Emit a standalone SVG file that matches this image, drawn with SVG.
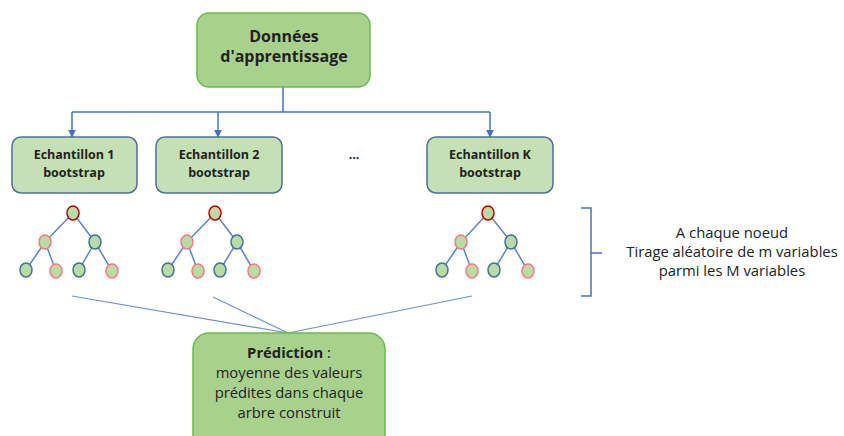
<svg xmlns="http://www.w3.org/2000/svg" width="844" height="436" viewBox="0 0 844 436">
  <defs>
    <marker id="arrow" viewBox="0 0 10 10" refX="9" refY="5" markerWidth="8" markerHeight="8" markerUnits="userSpaceOnUse" orient="auto">
      <path d="M0,0 L10,5 L0,10 z" fill="#4472c4"/>
    </marker>
    <style>
      .main { fill: #a9d18e; stroke: #6cbb4c; stroke-width: 1.5; }
      .sample { fill: #c5e0b4; stroke: #4f6f99; stroke-width: 1.5; }
      .link { fill: none; stroke: #4472c4; stroke-width: 1.5; }
      .thin { fill: none; stroke: #6f8fd0; stroke-width: 1.2; }
      .edge { stroke: #5b84cc; stroke-width: 1.5; }
      .nd { fill: #b9dba6; stroke-width: 1.5; }
      .root { stroke: #c00000; }
      .red { stroke: #f47a7d; }
      .blue { stroke: #41719c; }
      text { font-family: "Open Sans", "Liberation Sans", sans-serif; fill: #222; text-anchor: middle; }
      .title { font-size: 16px; font-weight: bold; }
      .lbl { font-size: 12.5px; font-weight: bold; }
      .body { font-size: 14.8px; }
      .note { font-size: 14.8px; }
    </style>
  </defs>

  <!-- flow connectors -->
  <g id="connectors">
    <path class="link" d="M283,87 V112"/>
    <path class="link" d="M72,112 H490"/>
    <path class="link" d="M72,112 V137" marker-end="url(#arrow)"/>
    <path class="link" d="M218,112 V137" marker-end="url(#arrow)"/>
    <path class="link" d="M490,112 V137" marker-end="url(#arrow)"/>
    <path class="thin" d="M72,296 L288,333"/>
    <path class="thin" d="M213,297 L288,333"/>
    <path class="thin" d="M472,296 L288,333"/>
    <!-- bracket -->
    <path class="link" d="M581,208 H591 V296 H581 M591,253 H602"/>
  </g>

  <g id="donnees">
    <rect class="main" x="197" y="13" width="173" height="74" rx="12"/>
    <text class="title" x="284" y="42">Données</text>
    <text class="title" x="284" y="62">d'apprentissage</text>
  </g>

  <g id="echantillon1">
    <rect class="sample" x="12" y="137" width="125" height="56" rx="9"/>
    <text class="lbl" x="74" y="159">Echantillon 1</text>
    <text class="lbl" x="74" y="177">bootstrap</text>
  </g>

  <g id="echantillon2">
    <rect class="sample" x="156" y="137" width="126" height="56" rx="9"/>
    <text class="lbl" x="219" y="159">Echantillon 2</text>
    <text class="lbl" x="219" y="177">bootstrap</text>
  </g>

  <g id="ellipsis">
    <text class="lbl" x="354" y="159">...</text>
  </g>

  <g id="echantillonK">
    <rect class="sample" x="427" y="137" width="126" height="56" rx="9"/>
    <text class="lbl" x="490" y="159">Echantillon K</text>
    <text class="lbl" x="490" y="177">bootstrap</text>
  </g>

  <!-- decision trees -->
  <g id="tree1">
    <path class="edge" d="M73,213 L45,242 M73,213 L95,242 M45,242 L26,270 M45,242 L56,271 M95,242 L79,270 M95,242 L112,271"/>
    <ellipse class="nd root" cx="73" cy="213" rx="6" ry="7"/>
    <ellipse class="nd red" cx="45" cy="242" rx="6" ry="7"/>
    <ellipse class="nd blue" cx="95" cy="242" rx="6" ry="7"/>
    <ellipse class="nd blue" cx="26" cy="270" rx="6" ry="7"/>
    <ellipse class="nd red" cx="56" cy="271" rx="6" ry="7"/>
    <ellipse class="nd blue" cx="79" cy="270" rx="6" ry="7"/>
    <ellipse class="nd red" cx="112" cy="271" rx="6" ry="7"/>
  </g>

  <g id="tree2">
    <path class="edge" d="M215,213 L187,242 M215,213 L237,242 M187,242 L168,270 M187,242 L198,271 M237,242 L220,270 M237,242 L254,271"/>
    <ellipse class="nd root" cx="215" cy="213" rx="6" ry="7"/>
    <ellipse class="nd red" cx="187" cy="242" rx="6" ry="7"/>
    <ellipse class="nd blue" cx="237" cy="242" rx="6" ry="7"/>
    <ellipse class="nd blue" cx="168" cy="270" rx="6" ry="7"/>
    <ellipse class="nd red" cx="198" cy="271" rx="6" ry="7"/>
    <ellipse class="nd blue" cx="220" cy="270" rx="6" ry="7"/>
    <ellipse class="nd red" cx="254" cy="271" rx="6" ry="7"/>
  </g>

  <g id="treeK">
    <path class="edge" d="M488,213 L461,242 M488,213 L511,242 M461,242 L442,270 M461,242 L472,271 M511,242 L494,270 M511,242 L528,271"/>
    <ellipse class="nd root" cx="488" cy="213" rx="6" ry="7"/>
    <ellipse class="nd red" cx="461" cy="242" rx="6" ry="7"/>
    <ellipse class="nd blue" cx="511" cy="242" rx="6" ry="7"/>
    <ellipse class="nd blue" cx="442" cy="270" rx="6" ry="7"/>
    <ellipse class="nd red" cx="472" cy="271" rx="6" ry="7"/>
    <ellipse class="nd blue" cx="494" cy="270" rx="6" ry="7"/>
    <ellipse class="nd red" cx="528" cy="271" rx="6" ry="7"/>
  </g>

  <g id="note">
    <text class="note" x="732" y="238">A chaque noeud</text>
    <text class="note" x="732" y="257">Tirage aléatoire de m variables</text>
    <text class="note" x="732" y="276">parmi les M variables</text>
  </g>

  <g id="prediction">
    <rect class="main" x="193" y="333" width="192" height="120" rx="16"/>
    <text class="body" x="289" y="358"><tspan font-weight="bold">Prédiction</tspan> :</text>
    <text class="body" x="289" y="378">moyenne des valeurs</text>
    <text class="body" x="289" y="398">prédites dans chaque</text>
    <text class="body" x="289" y="418">arbre construit</text>
  </g>
</svg>
